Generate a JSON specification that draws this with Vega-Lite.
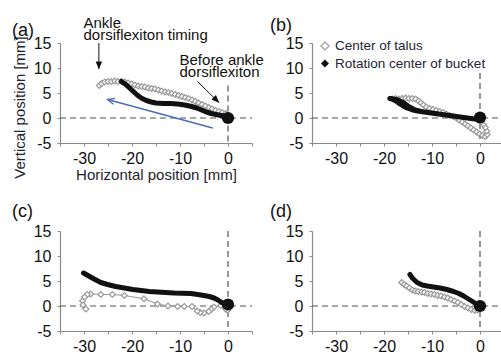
{
  "$schema": "https://vega.github.io/schema/vega-lite/v6.json",
  "padding": {"left": 12, "top": 16, "right": 0, "bottom": 0},
  "background": "white",
  "columns": 2,
  "spacing": {"row": 88, "column": 60},
  "bounds": "flush",
  "datasets": {
    "a": [
      {"s":"t","x":-26.8,"y":6.5},{"s":"t","x":-26.3,"y":6.9},{"s":"t","x":-25.7,"y":7.2},{"s":"t","x":-25.0,"y":7.3},{"s":"t","x":-24.3,"y":7.3},{"s":"t","x":-23.6,"y":7.4},{"s":"t","x":-22.9,"y":7.3},{"s":"t","x":-22.2,"y":7.3},{"s":"t","x":-21.5,"y":7.2},{"s":"t","x":-20.8,"y":7.0},{"s":"t","x":-20.1,"y":6.8},{"s":"t","x":-19.4,"y":6.6},{"s":"t","x":-18.7,"y":6.4},{"s":"t","x":-18.0,"y":6.3},{"s":"t","x":-17.3,"y":6.2},{"s":"t","x":-16.6,"y":6.0},{"s":"t","x":-15.9,"y":5.9},{"s":"t","x":-15.2,"y":5.8},{"s":"t","x":-14.5,"y":5.6},{"s":"t","x":-13.8,"y":5.4},{"s":"t","x":-13.1,"y":5.2},{"s":"t","x":-12.4,"y":5.1},{"s":"t","x":-11.7,"y":4.9},{"s":"t","x":-11.0,"y":4.7},{"s":"t","x":-10.3,"y":4.5},{"s":"t","x":-9.6,"y":4.3},{"s":"t","x":-8.9,"y":4.1},{"s":"t","x":-8.2,"y":3.9},{"s":"t","x":-7.5,"y":3.6},{"s":"t","x":-6.8,"y":3.3},{"s":"t","x":-6.1,"y":3.0},{"s":"t","x":-5.4,"y":2.7},{"s":"t","x":-4.7,"y":2.4},{"s":"t","x":-4.0,"y":2.1},{"s":"t","x":-3.3,"y":1.8},{"s":"t","x":-2.6,"y":1.5},{"s":"t","x":-1.9,"y":1.3},{"s":"t","x":-1.2,"y":1.1},{"s":"t","x":-0.5,"y":0.9},
      {"s":"b","x":-22.2,"y":7.3},{"s":"b","x":-21.3,"y":6.7},{"s":"b","x":-20.5,"y":6.0},{"s":"b","x":-19.6,"y":5.2},{"s":"b","x":-18.8,"y":4.5},{"s":"b","x":-17.9,"y":3.9},{"s":"b","x":-17.0,"y":3.5},{"s":"b","x":-16.0,"y":3.2},{"s":"b","x":-15.0,"y":3.0},{"s":"b","x":-13.5,"y":2.9},{"s":"b","x":-12.0,"y":2.9},{"s":"b","x":-10.5,"y":2.8},{"s":"b","x":-9.0,"y":2.6},{"s":"b","x":-7.6,"y":2.3},{"s":"b","x":-6.5,"y":2.0},{"s":"b","x":-5.5,"y":1.6},{"s":"b","x":-4.5,"y":1.2},{"s":"b","x":-3.5,"y":0.9},{"s":"b","x":-2.5,"y":0.7},{"s":"b","x":-1.4,"y":0.5},{"s":"b","x":-0.5,"y":0.3},{"s":"b","x":0,"y":0.1},
      {"s":"d","x":0,"y":0}
    ],
    "b": [
      {"s":"t","x":-18.3,"y":3.8},{"s":"t","x":-17.6,"y":3.9},{"s":"t","x":-16.9,"y":3.8},{"s":"t","x":-16.2,"y":3.9},{"s":"t","x":-15.5,"y":4.0},{"s":"t","x":-14.8,"y":3.9},{"s":"t","x":-14.1,"y":3.9},{"s":"t","x":-13.4,"y":3.8},{"s":"t","x":-12.8,"y":3.4},{"s":"t","x":-12.3,"y":3.0},{"s":"t","x":-11.8,"y":2.6},{"s":"t","x":-11.2,"y":2.2},{"s":"t","x":-10.5,"y":1.9},{"s":"t","x":-9.8,"y":1.7},{"s":"t","x":-9.1,"y":1.5},{"s":"t","x":-8.4,"y":1.3},{"s":"t","x":-7.7,"y":1.1},{"s":"t","x":-7.0,"y":0.8},{"s":"t","x":-6.3,"y":0.5},{"s":"t","x":-5.6,"y":0.3},{"s":"t","x":-4.9,"y":0.0},{"s":"t","x":-4.3,"y":-0.4},{"s":"t","x":-3.7,"y":-0.8},{"s":"t","x":-3.1,"y":-1.2},{"s":"t","x":-2.5,"y":-1.6},{"s":"t","x":-1.9,"y":-2.0},{"s":"t","x":-1.3,"y":-2.4},{"s":"t","x":-0.7,"y":-2.8},{"s":"t","x":-0.1,"y":-3.2},{"s":"t","x":0.5,"y":-3.5},{"s":"t","x":1.1,"y":-3.7},{"s":"t","x":1.5,"y":-3.3},{"s":"t","x":1.4,"y":-2.6},{"s":"t","x":1.1,"y":-1.9},{"s":"t","x":0.7,"y":-1.3},{"s":"t","x":0.3,"y":-0.8},
      {"s":"b","x":-18.8,"y":3.9},{"s":"b","x":-18.2,"y":3.8},{"s":"b","x":-17.5,"y":3.4},{"s":"b","x":-16.8,"y":2.9},{"s":"b","x":-16.0,"y":2.4},{"s":"b","x":-15.2,"y":2.0},{"s":"b","x":-14.3,"y":1.7},{"s":"b","x":-13.3,"y":1.45},{"s":"b","x":-12.0,"y":1.25},{"s":"b","x":-10.5,"y":1.05},{"s":"b","x":-9.0,"y":0.85},{"s":"b","x":-7.5,"y":0.65},{"s":"b","x":-6.0,"y":0.45},{"s":"b","x":-4.5,"y":0.25},{"s":"b","x":-3.0,"y":0.05},{"s":"b","x":-1.5,"y":-0.15},{"s":"b","x":0,"y":-0.3},
      {"s":"b2","x":-18.6,"y":3.9},{"s":"b2","x":-17.3,"y":3.8},{"s":"b2","x":-16.2,"y":3.3},{"s":"b2","x":-15.0,"y":2.5},{"s":"b2","x":-13.5,"y":1.7},{"s":"b2","x":-12.0,"y":1.3},
      {"s":"d","x":0,"y":0.1}
    ],
    "c": [
      {"s":"t","x":-0.1,"y":-0.9},{"s":"t","x":-0.5,"y":-0.6},{"s":"t","x":-1.5,"y":0.1},{"s":"t","x":-2.9,"y":-0.2},{"s":"t","x":-3.5,"y":-0.7},{"s":"t","x":-4.0,"y":-1.1},{"s":"t","x":-5.0,"y":-1.4},{"s":"t","x":-5.8,"y":-1.3},{"s":"t","x":-6.4,"y":-1.0},{"s":"t","x":-7.5,"y":-0.1},{"s":"t","x":-9.1,"y":-0.1},{"s":"t","x":-10.5,"y":-0.1},{"s":"t","x":-12.5,"y":0.0},{"s":"t","x":-14.7,"y":0.4},{"s":"t","x":-17.5,"y":1.45},{"s":"t","x":-21.6,"y":2.1},{"s":"t","x":-24.1,"y":2.3},{"s":"t","x":-26.5,"y":2.3},{"s":"t","x":-28.6,"y":2.4},{"s":"t","x":-29.3,"y":2.3},{"s":"t","x":-29.9,"y":1.8},{"s":"t","x":-30.3,"y":1.0},{"s":"t","x":-30.2,"y":0.2},{"s":"t","x":-29.6,"y":-0.6},
      {"s":"b","x":-30.1,"y":6.6},{"s":"b","x":-29.0,"y":6.0},{"s":"b","x":-27.9,"y":5.4},{"s":"b","x":-26.5,"y":4.7},{"s":"b","x":-25.1,"y":4.3},{"s":"b","x":-23.4,"y":3.9},{"s":"b","x":-21.6,"y":3.6},{"s":"b","x":-19.8,"y":3.3},{"s":"b","x":-18.1,"y":3.1},{"s":"b","x":-16.4,"y":2.9},{"s":"b","x":-14.7,"y":2.8},{"s":"b","x":-13.0,"y":2.7},{"s":"b","x":-11.2,"y":2.6},{"s":"b","x":-9.5,"y":2.55},{"s":"b","x":-7.75,"y":2.5},{"s":"b","x":-6.3,"y":2.3},{"s":"b","x":-5.0,"y":2.1},{"s":"b","x":-3.9,"y":1.9},{"s":"b","x":-2.9,"y":1.6},{"s":"b","x":-2.1,"y":1.2},{"s":"b","x":-1.5,"y":0.8},{"s":"b","x":-0.7,"y":0.4},{"s":"b","x":0,"y":0.2},
      {"s":"d","x":0,"y":0.3}
    ],
    "d": [
      {"s":"t","x":-16.3,"y":4.7},{"s":"t","x":-15.8,"y":4.3},{"s":"t","x":-15.3,"y":4.0},{"s":"t","x":-14.7,"y":3.6},{"s":"t","x":-14.1,"y":3.2},{"s":"t","x":-13.5,"y":3.0},{"s":"t","x":-12.9,"y":2.9},{"s":"t","x":-12.2,"y":2.8},{"s":"t","x":-11.6,"y":2.7},{"s":"t","x":-10.9,"y":2.5},{"s":"t","x":-10.2,"y":2.4},{"s":"t","x":-9.5,"y":2.3},{"s":"t","x":-8.8,"y":2.1},{"s":"t","x":-8.1,"y":2.0},{"s":"t","x":-7.4,"y":1.8},{"s":"t","x":-6.7,"y":1.6},{"s":"t","x":-6.0,"y":1.3},{"s":"t","x":-5.3,"y":1.0},{"s":"t","x":-4.6,"y":0.7},{"s":"t","x":-3.9,"y":0.3},{"s":"t","x":-3.2,"y":-0.1},{"s":"t","x":-2.5,"y":-0.4},{"s":"t","x":-1.8,"y":-0.7},{"s":"t","x":-1.1,"y":-0.9},{"s":"t","x":-0.5,"y":-0.8},
      {"s":"b","x":-14.6,"y":6.3},{"s":"b","x":-14.0,"y":5.5},{"s":"b","x":-13.1,"y":4.7},{"s":"b","x":-12.0,"y":4.2},{"s":"b","x":-11.0,"y":4.0},{"s":"b","x":-9.7,"y":3.8},{"s":"b","x":-8.3,"y":3.6},{"s":"b","x":-6.9,"y":3.3},{"s":"b","x":-5.5,"y":2.9},{"s":"b","x":-4.4,"y":2.5},{"s":"b","x":-3.4,"y":2.0},{"s":"b","x":-2.4,"y":1.4},{"s":"b","x":-1.4,"y":0.8},{"s":"b","x":-0.6,"y":0.3},{"s":"b","x":0,"y":0},
      {"s":"d","x":0,"y":0}
    ],
    "ref": [
      {"p":"a","x":-35,"x2":5,"y":0,"y2":0},{"p":"a","x":0,"x2":0,"y":6.5,"y2":-5},
      {"p":"b","x":-35,"x2":5,"y":0,"y2":0},{"p":"b","x":0,"x2":0,"y":9,"y2":-5},
      {"p":"c","x":-35,"x2":5,"y":0,"y2":0},{"p":"c","x":0,"x2":0,"y":15,"y2":-5},
      {"p":"d","x":-35,"x2":5,"y":0,"y2":0},{"p":"d","x":0,"x2":0,"y":15,"y2":-5}
    ],
    "ann": [
      {"k":"txt","x":-30.1,"y":18,"t":"Ankle\ndorsiflexiton timing"},
      {"k":"txt","x":-10.1,"y":10.7,"t":"Before ankle\ndorsiflexiton"},
      {"k":"arrow","x":-26.9,"y":15,"x2":-26.9,"y2":9.9},
      {"k":"arrow","x":-6.35,"y":7.3,"x2":-1.9,"y2":3.1},
      {"k":"blue","x":-3.2,"y":-2.0,"x2":-25.1,"y2":3.7},
      {"k":"headv","x":-26.9,"y":9.7},
      {"k":"headd","x":-1.8,"y":3.0},
      {"k":"headb","x":-25.1,"y":3.7}
    ],
    "leg": [
      {"k":"sym","s":"t","x":-32.3,"y":14.4},
      {"k":"sym","s":"b","x":-32.3,"y":10.9},
      {"k":"lab","x":-30.2,"y":14.4,"t":"Center of talus"},
      {"k":"lab","x":-30.2,"y":10.9,"t":"Rotation center of bucket"}
    ]
  },
  "concat": [
    {
      "width": 192, "height": 100,
      "title": {"text": "(a)", "dx": -48, "offset": -24},
      "data": {"name": "a"},
      "encoding": {
        "x": {"field": "x", "type": "quantitative", "scale": {"domain": [-35, 5], "nice": false, "zero": false},
              "axis": {"title": "Horizontal position [mm]", "values": [-35,-30,-25,-20,-15,-10,-5,0,5], "labelExpr": "datum.value % 10 === 0 ? '' + datum.value : ''", "titlePadding": 1}},
        "y": {"field": "y", "type": "quantitative", "scale": {"domain": [-5, 15], "nice": false, "zero": false},
              "axis": {"title": "Vertical position [mm]", "values": [-5,0,5,10,15], "labelExpr": "'' + datum.value", "titlePadding": 6, "titleY": 64}}
      },
      "layer": [
        {"data": {"name": "ref"}, "transform": [{"filter": "datum.p === 'a'"}], "mark": {"type": "rule", "strokeDash": [6, 4], "color": "#555", "strokeWidth": 1.2}, "encoding": {"x2": {"field": "x2"}, "y2": {"field": "y2"}}},
        {"transform": [{"filter": "datum.s === 't'"}, {"window": [{"op": "row_number", "as": "i"}]}], "mark": {"type": "line", "color": "#aaa", "strokeWidth": 1}, "encoding": {"order": {"field": "i", "type": "quantitative"}}},
        {"transform": [{"filter": "datum.s === 't'"}], "mark": {"type": "point", "shape": "diamond", "size": 34, "filled": true, "fill": "white", "stroke": "#999", "strokeWidth": 1.2, "opacity": 1}},
        {"transform": [{"filter": "datum.s === 'b'"}, {"window": [{"op": "row_number", "as": "i"}]}], "mark": {"type": "line", "color": "#111", "strokeWidth": 5, "strokeCap": "round", "strokeJoin": "round"}, "encoding": {"order": {"field": "i", "type": "quantitative"}}},
        {"transform": [{"filter": "datum.s === 'd'"}], "mark": {"type": "point", "shape": "circle", "size": 150, "filled": true, "color": "#111", "opacity": 1}},
        {"data": {"name": "ann"}, "transform": [{"filter": "datum.k === 'arrow'"}], "mark": {"type": "rule", "color": "#111", "strokeWidth": 1}, "encoding": {"x2": {"field": "x2"}, "y2": {"field": "y2"}}},
        {"data": {"name": "ann"}, "transform": [{"filter": "datum.k === 'blue'"}], "mark": {"type": "rule", "color": "#4a6cb3", "strokeWidth": 1.3}, "encoding": {"x2": {"field": "x2"}, "y2": {"field": "y2"}}},
        {"data": {"name": "ann"}, "transform": [{"filter": "datum.k === 'headv'"}], "mark": {"type": "point", "shape": "M0,0L-2,-0.8L-2,0.8Z", "size": 64, "filled": true, "color": "#111", "opacity": 1, "angle": 90}},
        {"data": {"name": "ann"}, "transform": [{"filter": "datum.k === 'headd'"}], "mark": {"type": "point", "shape": "M0,0L-2,-0.8L-2,0.8Z", "size": 64, "filled": true, "color": "#111", "opacity": 1, "angle": 45}},
        {"data": {"name": "ann"}, "transform": [{"filter": "datum.k === 'headb'"}], "mark": {"type": "point", "shape": "M-2,-0.9L0,0L-2,0.9", "size": 49, "filled": false, "color": "#4a6cb3", "strokeWidth": 1.3, "opacity": 1, "angle": 195}},
        {"data": {"name": "ann"}, "transform": [{"filter": "datum.k === 'txt'"}], "mark": {"type": "text", "align": "left", "baseline": "alphabetic", "fontSize": 15, "lineHeight": 12, "lineBreak": "\n", "color": "#111", "font": "Liberation Sans"}, "encoding": {"text": {"field": "t"}}}
      ]
    },
    {
      "width": 192, "height": 100,
      "title": {"text": "(b)", "dx": -42, "offset": 0},
      "data": {"name": "b"},
      "encoding": {
        "x": {"field": "x", "type": "quantitative", "scale": {"domain": [-35, 5], "nice": false, "zero": false},
              "axis": {"title": null, "values": [-35,-30,-25,-20,-15,-10,-5,0,5], "labelExpr": "datum.value % 10 === 0 ? '' + datum.value : ''"}},
        "y": {"field": "y", "type": "quantitative", "scale": {"domain": [-5, 15], "nice": false, "zero": false},
              "axis": {"title": null, "values": [-5,0,5,10,15], "labelExpr": "'' + datum.value"}}
      },
      "layer": [
        {"data": {"name": "ref"}, "transform": [{"filter": "datum.p === 'b'"}], "mark": {"type": "rule", "strokeDash": [6, 4], "color": "#555", "strokeWidth": 1.2}, "encoding": {"x2": {"field": "x2"}, "y2": {"field": "y2"}}},
        {"transform": [{"filter": "datum.s === 't'"}, {"window": [{"op": "row_number", "as": "i"}]}], "mark": {"type": "line", "color": "#aaa", "strokeWidth": 1}, "encoding": {"order": {"field": "i", "type": "quantitative"}}},
        {"transform": [{"filter": "datum.s === 't'"}], "mark": {"type": "point", "shape": "diamond", "size": 34, "filled": true, "fill": "white", "stroke": "#999", "strokeWidth": 1.2, "opacity": 1}},
        {"transform": [{"filter": "datum.s === 'b'"}, {"window": [{"op": "row_number", "as": "i"}]}], "mark": {"type": "line", "color": "#111", "strokeWidth": 5, "strokeCap": "round", "strokeJoin": "round"}, "encoding": {"order": {"field": "i", "type": "quantitative"}}},
        {"transform": [{"filter": "datum.s === 'b2'"}, {"window": [{"op": "row_number", "as": "i"}]}], "mark": {"type": "line", "color": "#111", "strokeWidth": 4, "strokeCap": "round", "strokeJoin": "round"}, "encoding": {"order": {"field": "i", "type": "quantitative"}}},
        {"transform": [{"filter": "datum.s === 'd'"}], "mark": {"type": "point", "shape": "circle", "size": 150, "filled": true, "color": "#111", "opacity": 1}},
        {"data": {"name": "leg"}, "transform": [{"filter": "datum.k === 'sym' && datum.s === 't'"}], "mark": {"type": "point", "shape": "diamond", "size": 64, "filled": true, "fill": "white", "stroke": "#aaa", "strokeWidth": 1.5, "opacity": 1}},
        {"data": {"name": "leg"}, "transform": [{"filter": "datum.k === 'sym' && datum.s === 'b'"}], "mark": {"type": "point", "shape": "diamond", "size": 64, "filled": true, "color": "#111", "opacity": 1}},
        {"data": {"name": "leg"}, "transform": [{"filter": "datum.k === 'lab'"}], "mark": {"type": "text", "align": "left", "baseline": "middle", "fontSize": 13.5, "color": "#1d2533", "font": "Liberation Sans"}, "encoding": {"text": {"field": "t"}}}
      ]
    },
    {
      "width": 192, "height": 100,
      "title": {"text": "(c)", "dx": -48, "offset": 2},
      "data": {"name": "c"},
      "encoding": {
        "x": {"field": "x", "type": "quantitative", "scale": {"domain": [-35, 5], "nice": false, "zero": false},
              "axis": {"title": null, "values": [-35,-30,-25,-20,-15,-10,-5,0,5], "labelExpr": "datum.value % 10 === 0 ? '' + datum.value : ''"}},
        "y": {"field": "y", "type": "quantitative", "scale": {"domain": [-5, 15], "nice": false, "zero": false},
              "axis": {"title": null, "values": [-5,0,5,10,15], "labelExpr": "'' + datum.value"}}
      },
      "layer": [
        {"data": {"name": "ref"}, "transform": [{"filter": "datum.p === 'c'"}], "mark": {"type": "rule", "strokeDash": [6, 4], "color": "#555", "strokeWidth": 1.2}, "encoding": {"x2": {"field": "x2"}, "y2": {"field": "y2"}}},
        {"transform": [{"filter": "datum.s === 't'"}, {"window": [{"op": "row_number", "as": "i"}]}], "mark": {"type": "line", "color": "#999", "strokeWidth": 1.2}, "encoding": {"order": {"field": "i", "type": "quantitative"}}},
        {"transform": [{"filter": "datum.s === 't'"}], "mark": {"type": "point", "shape": "diamond", "size": 34, "filled": true, "fill": "white", "stroke": "#999", "strokeWidth": 1.2, "opacity": 1}},
        {"transform": [{"filter": "datum.s === 'b'"}, {"window": [{"op": "row_number", "as": "i"}]}], "mark": {"type": "line", "color": "#111", "strokeWidth": 5, "strokeCap": "round", "strokeJoin": "round"}, "encoding": {"order": {"field": "i", "type": "quantitative"}}},
        {"transform": [{"filter": "datum.s === 'd'"}], "mark": {"type": "point", "shape": "circle", "size": 150, "filled": true, "color": "#111", "opacity": 1}}
      ]
    },
    {
      "width": 192, "height": 100,
      "title": {"text": "(d)", "dx": -42, "offset": 2},
      "data": {"name": "d"},
      "encoding": {
        "x": {"field": "x", "type": "quantitative", "scale": {"domain": [-35, 5], "nice": false, "zero": false},
              "axis": {"title": null, "values": [-35,-30,-25,-20,-15,-10,-5,0,5], "labelExpr": "datum.value % 10 === 0 ? '' + datum.value : ''"}},
        "y": {"field": "y", "type": "quantitative", "scale": {"domain": [-5, 15], "nice": false, "zero": false},
              "axis": {"title": null, "values": [-5,0,5,10,15], "labelExpr": "'' + datum.value"}}
      },
      "layer": [
        {"data": {"name": "ref"}, "transform": [{"filter": "datum.p === 'd'"}], "mark": {"type": "rule", "strokeDash": [6, 4], "color": "#555", "strokeWidth": 1.2}, "encoding": {"x2": {"field": "x2"}, "y2": {"field": "y2"}}},
        {"transform": [{"filter": "datum.s === 't'"}, {"window": [{"op": "row_number", "as": "i"}]}], "mark": {"type": "line", "color": "#aaa", "strokeWidth": 1}, "encoding": {"order": {"field": "i", "type": "quantitative"}}},
        {"transform": [{"filter": "datum.s === 't'"}], "mark": {"type": "point", "shape": "diamond", "size": 34, "filled": true, "fill": "white", "stroke": "#999", "strokeWidth": 1.2, "opacity": 1}},
        {"transform": [{"filter": "datum.s === 'b'"}, {"window": [{"op": "row_number", "as": "i"}]}], "mark": {"type": "line", "color": "#111", "strokeWidth": 5, "strokeCap": "round", "strokeJoin": "round"}, "encoding": {"order": {"field": "i", "type": "quantitative"}}},
        {"transform": [{"filter": "datum.s === 'd'"}], "mark": {"type": "point", "shape": "circle", "size": 150, "filled": true, "color": "#111", "opacity": 1}}
      ]
    }
  ],
  "config": {
    "view": {"stroke": null},
    "font": "Liberation Sans",
    "axis": {"grid": false, "domainColor": "#8a8a8a", "domainWidth": 1.2, "tickColor": "#8a8a8a", "tickSize": 3, "labelFont": "Liberation Sans", "labelFontSize": 16, "labelColor": "#111", "titleFont": "Liberation Sans", "titleFontSize": 15, "titleFontWeight": "normal", "titleColor": "#1c2330"},
    "axisX": {"labelPadding": 4},
    "axisY": {"labelPadding": 6},
    "title": {"anchor": "start", "frame": "group", "baseline": "alphabetic", "fontSize": 18, "font": "Liberation Sans", "fontWeight": "normal", "color": "#111"}
  }
}
